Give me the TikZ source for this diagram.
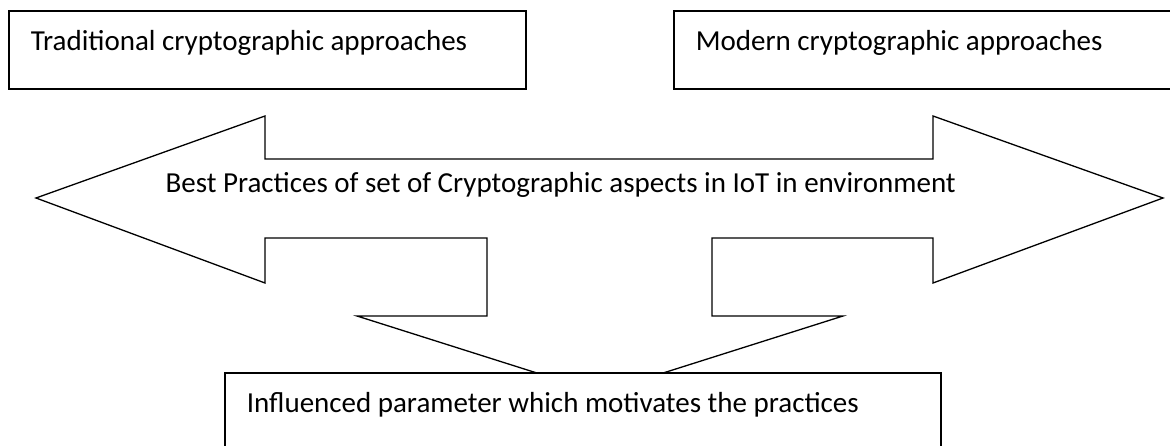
\documentclass[tikz,border=0pt]{standalone}
\usepackage{fontspec}
\setmainfont{Carlito}
\usetikzlibrary{positioning}

\begin{document}
\begin{tikzpicture}[x=1pt, y=-1pt,
    font=\fontsize{29}{34}\selectfont,
    box/.style={draw, line width=1.6pt, align=flush left, anchor=north west,
                inner xsep=22pt, inner ysep=0pt, text height=40pt, text depth=38pt},
    arrowshape/.style={draw, line width=1.3pt, fill=white, line join=miter}]
  \useasboundingbox (0,0) rectangle (1170,446);
  \clip (0,0) rectangle (1170,446);

  % left-right arrow with a branch pointing down
  \draw[arrowshape] (36,198) -- (265,116) -- (265,159) -- (933,159) -- (933,116)
    -- (1163,198) -- (933,283) -- (933,238) -- (712,238) -- (712,316)
    -- (843,316) -- (600,393) -- (357,316) -- (487,316) -- (487,238)
    -- (265,238) -- (265,283) -- cycle;
  \node[anchor=base west] (best) at (162,193)
    {Best Practices of set of Cryptographic aspects in IoT in environment};

  \node[box, text width=473pt] (trad) at (8,10)
    {Traditional cryptographic approaches};
  \node[box, text width=480pt] (modern) at (673,10)
    {Modern cryptographic approaches};
  \node[box, text width=672pt, text depth=60pt, fill=white] (infl) at (224,372)
    {Influenced parameter which motivates the practices};
\end{tikzpicture}
\end{document}
